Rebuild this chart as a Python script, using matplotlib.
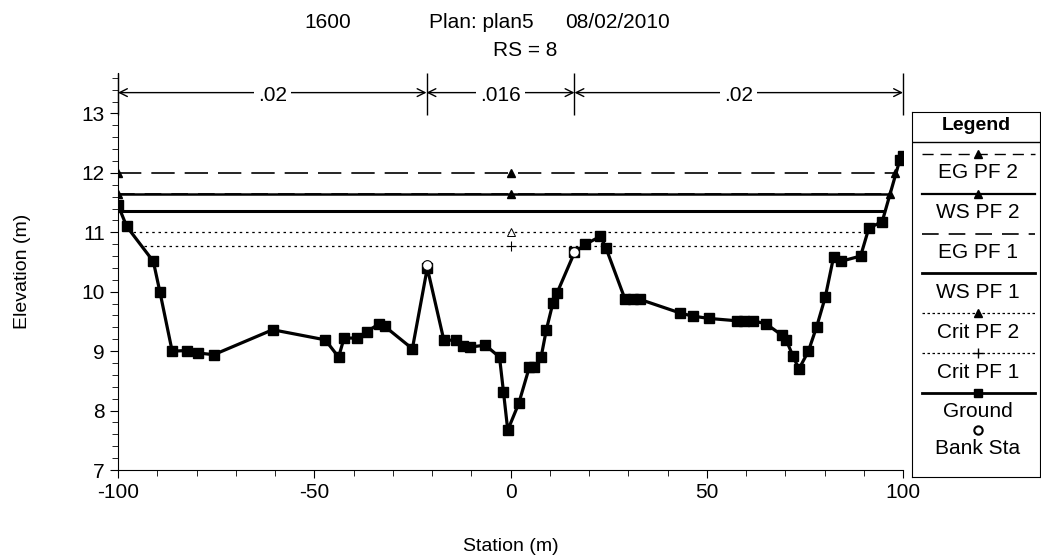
import numpy as np
import matplotlib.pyplot as plt
from matplotlib.ticker import MultipleLocator

plt.rcParams['font.family'] = ['Liberation Sans', 'DejaVu Sans']
plt.rcParams['axes.unicode_minus'] = False

# ground profile (station, elevation)
ground_x = [-100, -97.8, -91.0, -89.3, -86.2, -82.5, -79.7, -75.6, -60.6, -47.2,
            -43.8, -42.4, -39.0, -36.5, -33.5, -32.1, -25.0, -21.2, -17.0, -14.0,
            -12.1, -10.2, -6.4, -2.8, -1.8, -0.7, 2.1, 4.8, 6.1, 7.8,
            9.1, 10.8, 11.8, 16.3, 19.1, 22.9, 24.3, 29.2, 31.1, 33.0,
            43.3, 46.4, 50.6, 57.8, 59.5, 61.8, 65.1, 69.1, 70.3, 72.0,
            73.5, 75.9, 78.0, 80.2, 82.3, 84.1, 89.2, 91.3, 94.7, 99.2, 100.0]
ground_y = [11.46, 11.10, 10.51, 9.99, 9.00, 9.01, 8.97, 8.94, 9.36, 9.19,
            8.90, 9.22, 9.22, 9.33, 9.46, 9.42, 9.04, 10.40, 9.19, 9.18,
            9.09, 9.07, 9.10, 8.90, 8.32, 7.67, 8.12, 8.73, 8.73, 8.90,
            9.35, 9.81, 9.97, 10.66, 10.80, 10.93, 10.74, 9.87, 9.87, 9.87,
            9.64, 9.59, 9.55, 9.51, 9.51, 9.51, 9.46, 9.27, 9.18, 8.91,
            8.70, 9.00, 9.41, 9.91, 10.58, 10.51, 10.60, 11.07, 11.18, 12.22, 12.28]

bank_x = [-21.2, 16.3]
bank_y = [10.45, 10.66]

# water surface profiles: level, left end, right end
eg2 = (12.00, -100, 98.0)
ws2 = (11.64, -100, 96.6)
eg1 = (11.645, -100, 96.6)
ws1 = (11.35, -99.6, 95.2)
crit2 = (11.00, -96.2, 91.0)
crit1 = (10.77, -93.5, 89.8)

# manning's n regions
rough_x = [-100, -21.4, 16.3, 100]
rough_n = ['.02', '.016', '.02']

fig = plt.figure(figsize=(10.41, 5.58), dpi=100)
ax = fig.add_axes([118 / 1041, 1 - 470 / 558, 785 / 1041, 397 / 558])
ax.set_xlim(-100, 100)
ax.set_ylim(7, 13.68)

# water lines
ax.plot([eg2[1], eg2[2]], [eg2[0]] * 2, color='black', lw=1.2, dashes=(14, 6), zorder=2)
ax.plot([eg2[1], 0, eg2[2]], [eg2[0]] * 3, ls='none', marker='^', color='black', ms=6, zorder=4)
ax.plot([eg1[1], eg1[2]], [eg1[0]] * 2, color='black', lw=1.2, dashes=(10, 6), zorder=2)
ax.plot([ws2[1], ws2[2]], [ws2[0]] * 2, color='black', lw=1.8, zorder=2)
ax.plot([ws2[1], 0, ws2[2]], [ws2[0]] * 3, ls='none', marker='^', color='black', ms=6, zorder=4)
ax.plot([ws1[1], ws1[2]], [ws1[0]] * 2, color='black', lw=2.2, zorder=2)
ax.plot([crit2[1], crit2[2]], [crit2[0]] * 2, color='black', lw=0.9, dashes=(2, 3), zorder=2)
ax.plot([0], [crit2[0]], marker='^', mfc='white', mec='black', ms=6, mew=0.7, zorder=4)
ax.plot([crit1[1], crit1[2]], [crit1[0]] * 2, color='black', lw=0.9, dashes=(2, 3), zorder=2)
ax.plot([0], [crit1[0]], marker='+', color='black', ms=7, mew=0.8, zorder=4)

# ground
ax.plot(ground_x, ground_y, color='black', lw=2.3, marker='s', ms=7, zorder=3)
ax.plot(bank_x, bank_y, ls='none', marker='o', mfc='white', mec='black', ms=7, mew=0.8, zorder=5)

# roughness boundaries and labels
ytop, yarr = 12.98, 13.35
ax.vlines(rough_x, ytop, 13.68, color='black', lw=1, clip_on=False)
for a, b, lab in zip(rough_x[:-1], rough_x[1:], rough_n):
    ax.annotate('', xy=(a, yarr), xytext=(b, yarr),
                arrowprops=dict(arrowstyle='<->', lw=1, shrinkA=0, shrinkB=0, mutation_scale=14))
    ax.text((a + b) / 2, yarr - 0.05, lab, ha='center', va='center', fontsize=15,
            bbox=dict(facecolor='white', edgecolor='none', pad=3))

ax.spines['top'].set_visible(False)
ax.spines['right'].set_visible(False)
ax.xaxis.set_major_locator(MultipleLocator(50))
ax.xaxis.set_minor_locator(MultipleLocator(10))
ax.yaxis.set_major_locator(MultipleLocator(1))
ax.yaxis.set_minor_locator(MultipleLocator(0.2))
ax.set_yticks(range(7, 14))
ax.tick_params(which='major', length=6, labelsize=15, color='black')
ax.tick_params(which='minor', length=4)

ax.set_xlabel('Station (m)', fontsize=14, labelpad=26)
ax.set_ylabel('Elevation (m)', fontsize=14, labelpad=36)

# title pieces
fig.text(328 / 1041, 1 - 22 / 558, '1600', ha='center', va='center', fontsize=15)
fig.text(481 / 1041, 1 - 22 / 558, 'Plan: plan5', ha='center', va='center', fontsize=15)
fig.text(617 / 1041, 1 - 22 / 558, '08/02/2010', ha='center', va='center', fontsize=15)
fig.text(525 / 1041, 1 - 50 / 558, 'RS = 8', ha='center', va='center', fontsize=15)

# legend panel
lg = fig.add_axes([912 / 1041, 1 - 477 / 558, 128 / 1041, 365 / 558])
lg.set_xlim(0, 128)
lg.set_ylim(365, 0)
lg.set_xticks([])
lg.set_yticks([])
lg.axhline(30, color='black', lw=1)
lg.text(64, 14, 'Legend', ha='center', va='center', fontsize=14, fontweight='bold')
entries = [
    ('EG PF 2', dict(lw=1, dashes=(8, 5)), '^'),
    ('WS PF 2', dict(lw=1.6), '^'),
    ('EG PF 1', dict(lw=1.2, dashes=(10, 6)), None),
    ('WS PF 1', dict(lw=2), None),
    ('Crit PF 2', dict(lw=0.9, dashes=(2, 2)), '^'),
    ('Crit PF 1', dict(lw=0.9, dashes=(2, 2)), '+'),
    ('Ground', dict(lw=2), 's'),
]
for i, (name, style, mk) in enumerate(entries):
    yl = 42 + i * 39.8
    lg.plot([10, 123], [yl, yl], color='black', **style)
    if mk:
        lg.plot([66], [yl], marker=mk, color='black', ms=6 if mk != '+' else 7, mew=1)
    lg.text(66, yl + 19, name, ha='center', va='center', fontsize=15)
lg.plot([66], [318], marker='o', mfc='white', mec='black', ms=6, mew=1.5)
lg.text(66, 336, 'Bank Sta', ha='center', va='center', fontsize=15)

fig.savefig('out.png', dpi=100)
